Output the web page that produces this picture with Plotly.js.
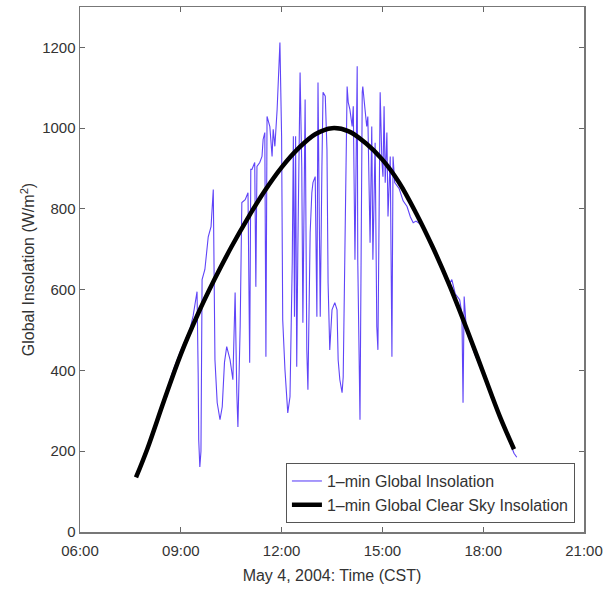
<!DOCTYPE html>
<html>
<head>
<meta charset="utf-8">
<script src="https://cdn.plot.ly/plotly-3.0.1.min.js"></script>
<style>html,body{margin:0;padding:0;background:#fff;}#chart{width:608px;height:590px;}</style>
</head>
<body>
<div id="chart"></div>
<script>
var day = "2004-05-04";
var xTickLabels = ["06:00", "09:00", "12:00", "15:00", "18:00", "21:00"];
var yTickVals = [0, 200, 400, 600, 800, 1000, 1200];

// 1-min global insolation
var obsTimes = ["08:15","08:30","08:45","09:00","09:10","09:16","09:22","09:29","09:31","09:32","09:34","09:36","09:38","09:43","09:49","09:54","09:58",
"10:01","10:05","10:10","10:14","10:18","10:22","10:28","10:33","10:37","10:40","10:42","10:46","10:49","10:55","11:00","11:03","11:05","11:07","11:12","11:14","11:16","11:21","11:25","11:27","11:30","11:32","11:34","11:39","11:43","11:45","11:48","11:52","11:54","11:57",
"12:00","12:02","12:06","12:11","12:15","12:19","12:21","12:23","12:25","12:27","12:29","12:33","12:36","12:38","12:42","12:45","12:47","12:51","12:54","12:56",
"13:00","13:03","13:05","13:09","13:12","13:14","13:18","13:21","13:23","13:26","13:30","13:35","13:39","13:41","13:44","13:48","13:50","13:53","13:57","13:59",
"14:02","14:06","14:08","14:11","14:15","14:16","14:20","14:24","14:25","14:29","14:32","14:34","14:38","14:41","14:43","14:47","14:50","14:52","14:56","14:59",
"15:01","15:03","15:05","15:08","15:10","15:14","15:17","15:19","15:22","15:30","15:37","15:44","15:50","15:55","16:00","16:10","16:30","16:45",
"17:00","17:04","17:10","17:18","17:22","17:24","17:26","17:30","17:45","18:00","18:15","18:30","18:45","18:55","19:00"];
var obsVals = [265,330,395,450,480,500,535,595,394,228,161,200,625,650,731,756,848,
426,320,278,310,420,459,426,377,593,345,260,508,816,823,840,419,898,898,915,607,905,915,930,972,989,434,1029,1004,930,997,955,1046,1121,1212,
980,525,402,295,335,667,980,533,980,409,700,1138,905,518,1071,451,352,741,840,865,
880,533,1113,533,905,1089,1079,947,617,451,550,568,550,426,377,345,384,674,1103,1064,
1046,1004,1054,674,1153,674,278,1089,1103,1046,1004,1029,716,1004,674,964,508,451,1089,922,
880,1054,865,989,781,930,434,930,865,850,820,806,780,766,770,760,700,660,
615,625,590,575,540,320,583,500,440,390,340,285,230,195,185];

// 1-min global clear sky insolation
var clearTimes = ["07:40","08:00","08:30","09:00","09:30","10:00","10:30","11:00","11:30","12:00","12:30","13:00","13:30","14:00","14:30","15:00","15:30","16:00","16:30","17:00","17:30","18:00","18:30","18:55"];
var clearVals = [135,205,325,440,538,625,705,778,845,903,950,985,1000,992,963,922,865,790,705,610,505,395,285,205];

function toDate(t){ return day + " " + t + ":00"; }

var traces = [
  {x: obsTimes.map(toDate), y: obsVals, type: "scatter", mode: "lines",
   name: "1\u2013min Global Insolation",
   line: {color: "#5f44f8", width: 1.1}},
  {x: clearTimes.map(toDate), y: clearVals, type: "scatter", mode: "lines",
   name: "1\u2013min Global Clear Sky Insolation",
   line: {color: "#000000", width: 4.5, shape: "spline", smoothing: 1}}
];

var layout = {
  width: 608, height: 590,
  margin: {l: 80, r: 24, t: 7, b: 58},
  paper_bgcolor: "#ffffff", plot_bgcolor: "#ffffff",
  font: {family: "Liberation Sans, Arial, sans-serif", size: 15, color: "#333"},
  showlegend: true,
  legend: {x: 0.982, y: 0.017, xanchor: "right", yanchor: "bottom",
           bgcolor: "#ffffff", bordercolor: "#555", borderwidth: 1,
           font: {size: 16, color: "#333"}, tracegroupgap: 0, itemwidth: 30},
  xaxis: {
    type: "date",
    range: [toDate("06:00"), toDate("21:00")],
    tickvals: xTickLabels.map(toDate), ticktext: xTickLabels,
    ticks: "inside", ticklen: 5, tickcolor: "#666",
    showline: true, linecolor: "#777", linewidth: 1.5, mirror: "ticks",
    showgrid: false, zeroline: false,
    tickfont: {size: 15, color: "#333"}, ticklabelstandoff: 4,
    title: {text: "May 4, 2004: Time (CST)", font: {size: 16, color: "#333"}, standoff: 12}
  },
  yaxis: {
    range: [0, 1300],
    tickvals: yTickVals,
    ticks: "inside", ticklen: 5, tickcolor: "#666",
    showline: true, linecolor: "#777", linewidth: 1.5, mirror: "ticks",
    showgrid: false, zeroline: false,
    tickfont: {size: 15, color: "#333"},
    title: {text: "Global Insolation (W/m<sup>2</sup>)", font: {size: 16, color: "#333"}, standoff: 3}
  }
};

Plotly.newPlot("chart", traces, layout, {displayModeBar: false, staticPlot: true});
</script>
</body>
</html>
